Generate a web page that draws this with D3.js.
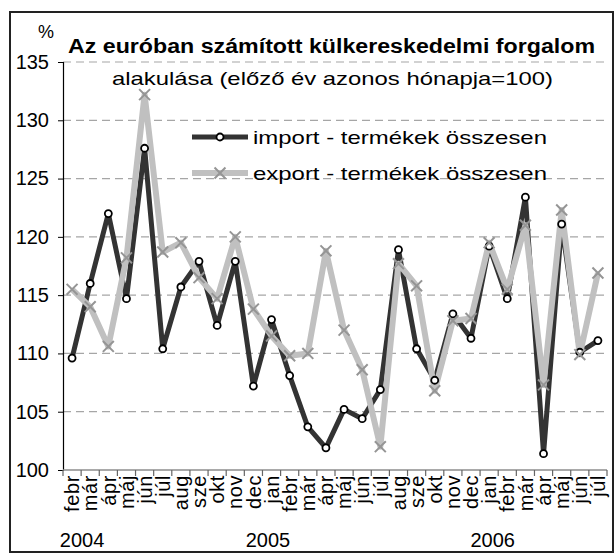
<!DOCTYPE html>
<html>
<head>
<meta charset="utf-8">
<script src="https://cdn.jsdelivr.net/npm/d3@7"></script>
<style>
  body { margin: 0; background: #fff; }
  text { font-family: "Liberation Sans", Arial, sans-serif; fill: #000; }
</style>
</head>
<body>
<div id="chart"></div>
<script>
var months = ["febr","már","ápr","máj","jún","júl","aug","sze","okt","nov","dec",
  "jan","febr","már","ápr","máj","jún","júl","aug","sze","okt","nov","dec",
  "jan","febr","már","ápr","máj","jún","júl"];
// year label and the month slot it sits under
var years = [["2004", 0.55], ["2005", 10.8], ["2006", 23.2]];
var importValues = [109.6,116.0,122.0,114.7,127.6,110.4,115.7,117.9,112.4,117.9,107.2,
  112.9,108.1,103.7,101.9,105.2,104.4,106.9,118.9,110.4,107.7,113.4,111.3,
  119.2,114.7,123.4,101.4,121.1,110.1,111.1];
var exportValues = [115.5,114.0,110.6,118.2,132.2,118.7,119.5,116.5,114.7,120.0,113.8,
  111.5,109.8,110.0,118.8,112.0,108.6,102.0,117.7,115.8,106.8,112.8,113.0,
  119.5,115.5,121.0,107.3,122.3,109.9,116.9];
var yTicks = [100,105,110,115,120,125,130,135];

var width = 616, height = 554;
var plotLeft = 63, plotRight = 607, plotTop = 62, plotBottom = 470;

var svg = d3.select("#chart").append("svg")
  .attr("width", width)
  .attr("height", height);

// frame
svg.append("rect")
  .attr("x", 10).attr("y", 12)
  .attr("width", 603).attr("height", 540)
  .attr("fill", "none")
  .attr("stroke", "#222")
  .attr("stroke-width", 2);

var x = d3.scaleBand().domain(d3.range(months.length)).range([plotLeft, plotRight]).padding(0);
var y = d3.scaleLinear().domain([100, 135]).range([plotBottom, plotTop]);

// grid
svg.append("g")
  .selectAll("line")
  .data(yTicks.filter(function (d) { return d > 100; }))
  .enter().append("line")
  .attr("x1", plotLeft).attr("x2", plotRight)
  .attr("y1", function (d) { return y(d); })
  .attr("y2", function (d) { return y(d); })
  .attr("stroke", "#a6a6a6")
  .attr("stroke-width", 1.2)
  .attr("stroke-dasharray", "8,5");

// y axis
var yAxis = svg.append("g")
  .attr("transform", "translate(" + plotLeft + ",0)")
  .call(d3.axisLeft(y).tickValues(yTicks).tickSize(5).tickPadding(9));
yAxis.select(".domain").attr("stroke", "#000").attr("stroke-width", 1.2);
yAxis.selectAll(".tick line").attr("stroke", "#000");
yAxis.selectAll("text")
  .attr("font-size", 20)
  .attr("font-family", "Liberation Sans, Arial, sans-serif")
  .attr("fill", "#000");

// x axis
var xAxis = svg.append("g").attr("transform", "translate(0," + plotBottom + ")");
xAxis.append("line")
  .attr("x1", plotLeft).attr("x2", plotRight)
  .attr("stroke", "#8c8c8c").attr("stroke-width", 1.5);
xAxis.selectAll(".xtick")
  .data(d3.range(months.length + 1))
  .enter().append("line")
  .attr("x1", function (d) { return plotLeft + d * x.bandwidth(); })
  .attr("x2", function (d) { return plotLeft + d * x.bandwidth(); })
  .attr("y1", 0).attr("y2", 6)
  .attr("stroke", "#666").attr("stroke-width", 1.2);
xAxis.selectAll(".mlabel")
  .data(months)
  .enter().append("text")
  .attr("transform", function (d, i) {
    return "translate(" + (x(i) + x.bandwidth() / 2) + ",5) rotate(-90)";
  })
  .attr("text-anchor", "end")
  .attr("dy", "0.36em")
  .attr("font-size", 20)
  .attr("letter-spacing", 0.6)
  .text(function (d) { return d; });

svg.append("g").selectAll("text")
  .data(years)
  .enter().append("text")
  .attr("x", function (d) { return x(0) + (d[1] + 0.5) * x.bandwidth(); })
  .attr("y", 547)
  .attr("text-anchor", "middle")
  .attr("font-size", 20)
  .text(function (d) { return d[0]; });

// titles
svg.append("text")
  .attr("x", 46).attr("y", 38)
  .attr("text-anchor", "middle")
  .attr("font-size", 18)
  .text("%");
svg.append("text")
  .attr("x", 68).attr("y", 53)
  .attr("font-size", 20)
  .attr("font-weight", "bold")
  .attr("textLength", 527)
  .attr("lengthAdjust", "spacingAndGlyphs")
  .text("Az euróban számított külkereskedelmi forgalom");
svg.append("text")
  .attr("x", 112).attr("y", 85)
  .attr("font-size", 19)
  .attr("textLength", 441)
  .attr("lengthAdjust", "spacingAndGlyphs")
  .text("alakulása (előző év azonos hónapja=100)");

// lines
var line = d3.line()
  .x(function (d, i) { return x(i) + x.bandwidth() / 2; })
  .y(function (d) { return y(d); });

svg.append("path")
  .datum(importValues)
  .attr("d", line)
  .attr("fill", "none")
  .attr("stroke", "#333333")
  .attr("stroke-width", 5)
  .attr("stroke-linejoin", "round");

svg.append("path")
  .datum(exportValues)
  .attr("d", line)
  .attr("fill", "none")
  .attr("stroke", "#c0c0c0")
  .attr("stroke-width", 6)
  .attr("stroke-linejoin", "round");

// markers
svg.append("g").selectAll("circle")
  .data(importValues)
  .enter().append("circle")
  .attr("cx", function (d, i) { return x(i) + x.bandwidth() / 2; })
  .attr("cy", function (d) { return y(d); })
  .attr("r", 3.5)
  .attr("fill", "#fff")
  .attr("stroke", "#000")
  .attr("stroke-width", 1.8);

var cross = d3.symbol().type(d3.symbolX).size(80);
svg.append("g").selectAll("path")
  .data(exportValues)
  .enter().append("path")
  .attr("d", cross)
  .attr("transform", function (d, i) {
    return "translate(" + (x(i) + x.bandwidth() / 2) + "," + y(d) + ")";
  })
  .attr("fill", "none")
  .attr("stroke", "#959595")
  .attr("stroke-width", 2);

// legend
var legendData = [["import - termékek összesen", "#333333", 5, "circle"],
                  ["export - termékek összesen", "#c0c0c0", 6, "cross"]];
var legend = svg.append("g").selectAll("g")
  .data(legendData)
  .enter().append("g")
  .attr("transform", function (d, i) { return "translate(192," + (137 + i * 36) + ")"; });

legend.append("line")
  .attr("x1", 0).attr("x2", 56)
  .attr("stroke", function (d) { return d[1]; })
  .attr("stroke-width", function (d) { return d[2]; });

legend.filter(function (d) { return d[3] === "circle"; })
  .append("circle")
  .attr("cx", 28).attr("r", 3.5)
  .attr("fill", "#fff").attr("stroke", "#000").attr("stroke-width", 1.8);

legend.filter(function (d) { return d[3] === "cross"; })
  .append("path")
  .attr("d", cross)
  .attr("transform", "translate(28,0)")
  .attr("fill", "none").attr("stroke", "#959595").attr("stroke-width", 2);

legend.append("text")
  .attr("x", 61).attr("y", 7)
  .attr("font-size", 19)
  .attr("textLength", 294)
  .attr("lengthAdjust", "spacingAndGlyphs")
  .text(function (d) { return d[0]; });
</script>
</body>
</html>
